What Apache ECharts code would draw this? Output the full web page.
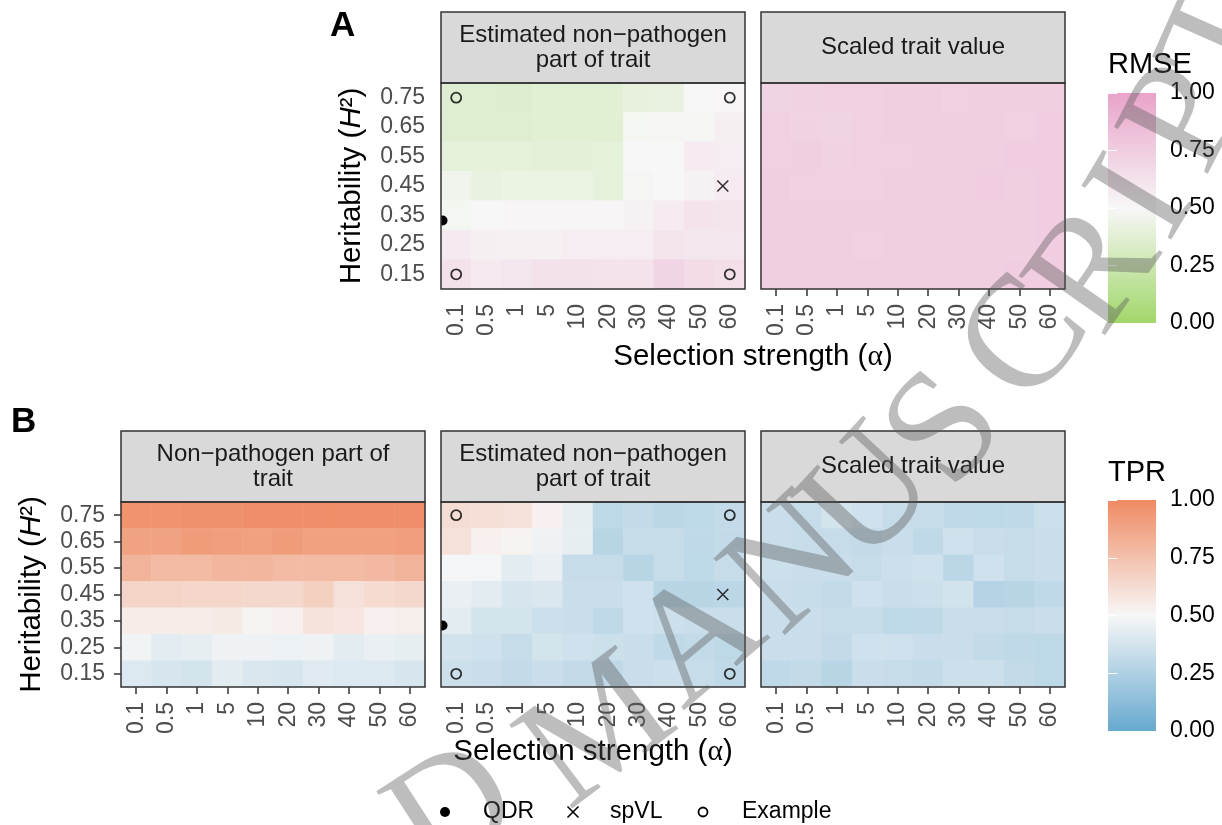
<!DOCTYPE html>
<html><head><meta charset="utf-8">
<script src="https://cdn.jsdelivr.net/npm/echarts@6/dist/echarts.min.js"></script>
<style>html,body{margin:0;padding:0;background:#fff}#c{width:1222px;height:825px}</style>
</head><body><div id="c"></div>
<script>
// ---------------- data ----------------
const alphaLabels = ['0.1','0.5','1','5','10','20','30','40','50','60'];
const h2Labels = ['0.15','0.25','0.35','0.45','0.55','0.65','0.75'];
// every matrix: rows from top (H2 = 0.75) to bottom (H2 = 0.15), columns alpha 0.1 ... 60
const rmseEstimated = [
  [0.36,0.36,0.35,0.37,0.37,0.37,0.41,0.42,0.50,0.51],
  [0.36,0.36,0.36,0.37,0.37,0.37,0.48,0.49,0.49,0.55],
  [0.40,0.40,0.40,0.39,0.39,0.40,0.50,0.50,0.57,0.56],
  [0.46,0.42,0.43,0.43,0.43,0.40,0.49,0.50,0.53,0.57],
  [0.48,0.50,0.51,0.51,0.51,0.51,0.53,0.57,0.62,0.61],
  [0.58,0.55,0.54,0.54,0.56,0.56,0.56,0.61,0.60,0.60],
  [0.63,0.58,0.60,0.63,0.63,0.62,0.62,0.70,0.66,0.64]
];
const rmseScaled = [
  [0.71,0.72,0.73,0.73,0.74,0.74,0.73,0.74,0.74,0.74],
  [0.73,0.72,0.71,0.73,0.74,0.74,0.74,0.74,0.73,0.75],
  [0.73,0.74,0.72,0.73,0.73,0.74,0.74,0.74,0.75,0.75],
  [0.74,0.73,0.73,0.73,0.74,0.74,0.74,0.75,0.74,0.75],
  [0.74,0.74,0.74,0.74,0.74,0.74,0.74,0.74,0.74,0.75],
  [0.74,0.74,0.74,0.73,0.74,0.74,0.74,0.74,0.74,0.75],
  [0.74,0.74,0.74,0.74,0.74,0.74,0.74,0.74,0.75,0.75]
];
const tprTrue = [
  [0.96,0.96,0.97,0.97,0.98,0.98,0.98,0.98,0.98,0.98],
  [0.89,0.89,0.92,0.91,0.90,0.92,0.90,0.90,0.90,0.91],
  [0.81,0.78,0.78,0.80,0.80,0.78,0.78,0.78,0.79,0.81],
  [0.66,0.66,0.65,0.65,0.64,0.64,0.68,0.60,0.63,0.64],
  [0.55,0.55,0.55,0.56,0.52,0.53,0.59,0.58,0.53,0.54],
  [0.48,0.43,0.44,0.47,0.47,0.46,0.47,0.43,0.45,0.44],
  [0.41,0.39,0.38,0.43,0.40,0.39,0.42,0.41,0.41,0.39]
];
const tprEstimated = [
  [0.62,0.61,0.60,0.53,0.44,0.30,0.32,0.29,0.30,0.32],
  [0.60,0.53,0.52,0.47,0.44,0.28,0.33,0.33,0.31,0.32],
  [0.49,0.49,0.43,0.45,0.33,0.33,0.28,0.33,0.30,0.33],
  [0.45,0.43,0.39,0.40,0.34,0.34,0.36,0.28,0.28,0.29],
  [0.43,0.38,0.38,0.35,0.34,0.31,0.36,0.35,0.34,0.34],
  [0.37,0.36,0.33,0.38,0.36,0.35,0.34,0.31,0.32,0.30],
  [0.35,0.34,0.32,0.34,0.32,0.31,0.34,0.35,0.33,0.31]
];
const tprScaled = [
  [0.34,0.33,0.38,0.36,0.33,0.33,0.31,0.30,0.31,0.35],
  [0.34,0.33,0.33,0.32,0.34,0.31,0.36,0.34,0.33,0.34],
  [0.35,0.34,0.34,0.33,0.35,0.36,0.29,0.36,0.33,0.34],
  [0.34,0.33,0.32,0.36,0.34,0.35,0.37,0.27,0.28,0.31],
  [0.34,0.34,0.33,0.33,0.30,0.31,0.34,0.34,0.33,0.34],
  [0.34,0.34,0.32,0.36,0.36,0.34,0.34,0.32,0.31,0.30],
  [0.31,0.32,0.28,0.34,0.33,0.32,0.35,0.35,0.32,0.30]
];
// marker positions as (alpha index, H2 index)
const examplePoints = [[0,6],[9,6],[0,0],[9,0]];
const spvlPoint = [[8.77,3]];
const qdrPoint = [[-0.45,1.83]];
const colorbarTicks = [0, 0.25, 0.5, 0.75, 1];

// ---------------- layout / styles ----------------
const FONT = "'Liberation Sans', Arial, Helvetica, sans-serif";
const PW = 304, STRIP = 71;
const panels = [
  {left:441, top:83,  height:206, data:rmseEstimated, title:'Estimated non\u2212pathogen\npart of trait', yShow:true},
  {left:761, top:83,  height:206, data:rmseScaled,    title:'Scaled trait value', yShow:false},
  {left:121, top:502, height:185, data:tprTrue,       title:'Non\u2212pathogen part of\ntrait', yShow:true},
  {left:441, top:502, height:185, data:tprEstimated,  title:'Estimated non\u2212pathogen\npart of trait', yShow:false},
  {left:761, top:502, height:185, data:tprScaled,     title:'Scaled trait value', yShow:false}
];
const bars = [
  {left:1108, top:93,  height:230, colors:['#e9a3c9','#f7f7f7','#a1d76a'], title:'RMSE', titleY:65},
  {left:1108, top:500, height:231, colors:['#ef8a62','#f7f7f7','#67a9cf'], title:'TPR', titleY:473}
];

const grids = [], xAxes = [], yAxes = [], series = [];
panels.forEach((p, i) => {
  grids.push({left:p.left, top:p.top, width:PW, height:p.height, outerBoundsMode:'none', containLabel:false});
  xAxes.push({type:'category', gridIndex:i, data:alphaLabels, position:'bottom',
    axisLine:{show:false}, splitLine:{show:false},
    axisTick:{show:true, alignWithLabel:true, length:7, lineStyle:{color:'#333333', width:1.5}},
    axisLabel:{interval:0, rotate:90, margin:15, fontSize:23, color:'#4d4d4d', fontFamily:FONT}});
  yAxes.push({type:'category', gridIndex:i, data:h2Labels,
    axisLine:{show:false}, splitLine:{show:false},
    axisTick:{show:p.yShow, alignWithLabel:true, length:7, lineStyle:{color:'#333333', width:1.5}},
    axisLabel:{show:p.yShow, interval:0, margin:16, fontSize:23, color:'#4d4d4d', fontFamily:FONT}});
  const d = [];
  p.data.forEach((row, r) => row.forEach((v, c) => d.push([c, h2Labels.length - 1 - r, v])));
  series.push({type:'heatmap', xAxisIndex:i, yAxisIndex:i, data:d, z:2,
    itemStyle:{borderWidth:0}, emphasis:{disabled:true}, progressive:0});
});
// overlay value axes for markers (panels 0 and 3)
[0, 3].forEach(gi => {
  xAxes.push({type:'value', gridIndex:gi, min:-0.5, max:9.5, show:false});
  yAxes.push({type:'value', gridIndex:gi, min:-0.5, max:6.5, show:false});
});
// colorbar grids
bars.forEach(b => {
  const gi = grids.length;
  grids.push({left:b.left, top:b.top, width:48, height:b.height, show:true, borderWidth:0,
    outerBoundsMode:'none', containLabel:false,
    backgroundColor:new echarts.graphic.LinearGradient(0,0,0,1,[
      {offset:0,color:b.colors[0]},{offset:0.5,color:b.colors[1]},{offset:1,color:b.colors[2]}])});
  xAxes.push({type:'value', gridIndex:gi, show:false});
  yAxes.push({type:'value', gridIndex:gi, min:colorbarTicks[0], max:colorbarTicks[colorbarTicks.length-1], interval:0.25,
    position:'right', axisLine:{show:false}, splitLine:{show:false},
    axisTick:{show:true, inside:true, length:9, lineStyle:{color:'#ffffff', width:1}},
    axisLabel:{margin:14, fontSize:23, color:'#000', fontFamily:FONT, formatter:v => v.toFixed(2)}});
  yAxes.push({type:'value', gridIndex:gi, min:colorbarTicks[0], max:colorbarTicks[colorbarTicks.length-1], interval:0.25,
    position:'left', axisLine:{show:false}, splitLine:{show:false},
    axisTick:{show:true, inside:true, length:9, lineStyle:{color:'#ffffff', width:1}},
    axisLabel:{show:false}});
});
const ovX = [5, 6], ovY = [5, 6];
ovX.forEach((xa, k) => {
  series.push({type:'scatter', xAxisIndex:xa, yAxisIndex:ovY[k], data:examplePoints, z:5,
    symbol:'circle', symbolSize:10, silent:true,
    itemStyle:{color:'rgba(0,0,0,0)', borderColor:'#000', borderWidth:1.8}});
  series.push({type:'scatter', xAxisIndex:xa, yAxisIndex:ovY[k], data:spvlPoint, z:5,
    symbol:'path://M0,0L10,10M10,0L0,10', symbolSize:11, silent:true,
    itemStyle:{color:'rgba(0,0,0,0)', borderColor:'#000', borderWidth:1.6}});
  series.push({type:'custom', xAxisIndex:xa, yAxisIndex:ovY[k], data:qdrPoint, z:5, clip:true, silent:true,
    renderItem:(params, api) => {
      const pt = api.coord([api.value(0), api.value(1)]);
      return {type:'circle', shape:{cx:pt[0], cy:pt[1], r:5}, style:{fill:'#000'}};
    }});
});

// ---------------- graphic elements ----------------
const g = [];
panels.forEach(p => {
  g.push({type:'rect', z:10, silent:true, shape:{x:p.left, y:p.top - STRIP, width:PW, height:STRIP},
    style:{fill:'#d9d9d9', stroke:'#333333', lineWidth:1.5}});
  g.push({type:'text', z:11, silent:true, x:p.left + PW/2, y:p.top - STRIP/2,
    style:{text:p.title, fontSize:24, fontFamily:FONT, fill:'#1a1a1a', align:'center', verticalAlign:'middle', lineHeight:25}});
  g.push({type:'rect', z:10, silent:true, shape:{x:p.left, y:p.top, width:PW, height:p.height},
    style:{fill:'none', stroke:'#333333', lineWidth:1.5}});
});
bars.forEach(b => {
  g.push({type:'text', z:11, silent:true, x:b.left, y:b.titleY,
    style:{text:b.title, fontSize:29, fontFamily:FONT, fill:'#000', align:'left', verticalAlign:'middle'}});
});
// panel letters
g.push({type:'text', z:11, silent:true, x:330, y:26, style:{text:'A', fontSize:35, fontWeight:'bold', fontFamily:FONT, fill:'#000', align:'left', verticalAlign:'middle'}});
g.push({type:'text', z:11, silent:true, x:11, y:422, style:{text:'B', fontSize:35, fontWeight:'bold', fontFamily:FONT, fill:'#000', align:'left', verticalAlign:'middle'}});
// axis titles
const xTitle = {text:'Selection strength ({a|\u03b1})', fontSize:29.5, fontFamily:FONT, fill:'#000', align:'center', verticalAlign:'middle',
  rich:{a:{fontSize:29.5, fontFamily:"'Liberation Serif', serif", fill:'#000'}}};
g.push({type:'text', z:11, silent:true, x:(441+761+PW)/2, y:357, style:Object.assign({}, xTitle)});
g.push({type:'text', z:11, silent:true, x:(121+761+PW)/2, y:752, style:Object.assign({}, xTitle)});
const yTitle = {text:'Heritability ({i|H}\u00b2)', fontSize:29.5, fontFamily:FONT, fill:'#000', align:'center', verticalAlign:'middle',
  rich:{i:{fontSize:29.5, fontStyle:'italic', fontFamily:FONT, fill:'#000'}}};
g.push({type:'text', z:11, silent:true, x:352, y:83+103, rotation:Math.PI/2, style:Object.assign({}, yTitle)});
g.push({type:'text', z:11, silent:true, x:32, y:502+92.5, rotation:Math.PI/2, style:Object.assign({}, yTitle)});
// shape legend
const LY = 812;
g.push({type:'circle', z:11, silent:true, shape:{cx:445, cy:LY, r:5}, style:{fill:'#000'}});
g.push({type:'text', z:11, silent:true, x:483, y:LY, style:{text:'QDR', fontSize:23, fontFamily:FONT, fill:'#000', verticalAlign:'middle'}});
g.push({type:'polyline', z:11, silent:true, shape:{points:[[567.5,LY-5.5],[578.5,LY+5.5]]}, style:{stroke:'#000', lineWidth:1.6}});
g.push({type:'polyline', z:11, silent:true, shape:{points:[[567.5,LY+5.5],[578.5,LY-5.5]]}, style:{stroke:'#000', lineWidth:1.6}});
g.push({type:'text', z:11, silent:true, x:610, y:LY, style:{text:'spVL', fontSize:23, fontFamily:FONT, fill:'#000', verticalAlign:'middle'}});
g.push({type:'circle', z:11, silent:true, shape:{cx:703, cy:LY, r:4.5}, style:{fill:'none', stroke:'#000', lineWidth:1.8}});
g.push({type:'text', z:11, silent:true, x:742, y:LY, style:{text:'Example', fontSize:23, fontFamily:FONT, fill:'#000', verticalAlign:'middle'}});
// watermark (curved "ACCEPTED MANUSCRIPT", visible part)
const wm = [
  ['D',455,815,33],['M',600,735,37],['A',700,642,40],['N',795,568,43],['U',872,498,47],['S',948,432,50],
  ['C',1028,342,52],['R',1098,272,55],['I',1146,200,59],['P',1188,120,63],['T',1228,40,66]
];
wm.forEach(w => {
  g.push({type:'text', z:50, silent:true, x:w[1], y:w[2], rotation:w[3]*Math.PI/180,
    style:{text:w[0], fontSize:160, fontFamily:"'Liberation Serif', 'Times New Roman', serif", fill:'rgba(90,90,90,0.40)', align:'center', verticalAlign:'middle'}});
});

const chart = echarts.init(document.getElementById('c'), null, {renderer:'canvas'});
chart.setOption({
  animation:false,
  backgroundColor:'#ffffff',
  textStyle:{fontFamily:FONT},
  grid:grids, xAxis:xAxes, yAxis:yAxes,
  visualMap:[
    {type:'continuous', show:false, min:0, max:1, dimension:2, seriesIndex:[0,1], inRange:{color:['#a1d76a','#f7f7f7','#e9a3c9']}},
    {type:'continuous', show:false, min:0, max:1, dimension:2, seriesIndex:[2,3,4], inRange:{color:['#67a9cf','#f7f7f7','#ef8a62']}}
  ],
  series:series,
  graphic:g
});
</script></body></html>
